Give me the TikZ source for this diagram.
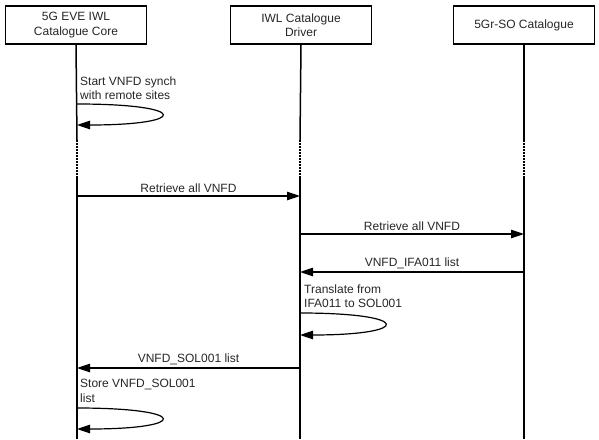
\documentclass[tikz,border=0pt]{standalone}
\usepackage{fontspec}
\setmainfont{Liberation Sans}
\usetikzlibrary{arrows.meta}
\begin{document}
\begin{tikzpicture}[x=1pt,y=-1pt,
  every node/.style={font=\fontsize{12}{14.5}\selectfont, text=black!85},
  actor/.style={draw, line width=1.5pt, minimum width=141pt, minimum height=38pt, align=center, inner sep=0pt},
  life/.style={line width=1.5pt},
  lifedot/.style={line width=1.5pt, dash pattern=on 1.6pt off 1.4pt},
  msg/.style={line width=1.2pt, -{Triangle[length=13pt,width=8.5pt]}},
  mlabel/.style={above=2pt, inner sep=1pt},
  note/.style={anchor=west, align=left, inner sep=0pt}]
\useasboundingbox (0,0) rectangle (599,439);

\node[actor] (A) at (76,25) {5G EVE IWL\\Catalogue Core};
\node[actor] (B) at (301,25) {IWL Catalogue\\Driver};
\node[actor] (C) at (524,25) {5Gr-SO Catalogue};

% lifelines
\foreach \n/\x in {A/77,B/300,C/524}{
  \coordinate (\n d1) at (\x,140);
  \coordinate (\n d2) at (\x,177);
  \coordinate (\n end) at (\x,439);
  \draw[life] (\n.south) -- (\n d1);
  \draw[lifedot] (\n d1) -- (\n d2);
  \draw[life] (\n d2) -- (\n end);
}

% self message 1
\coordinate (s1a) at (77,104);
\coordinate (s1b) at (77,125);
\node[note] (t1) at (80,88) {Start VNFD synch\\with remote sites};
\draw[msg] (s1a) .. controls (190,104) and (190,125) .. (s1b);

% Retrieve all VNFD (A->B)
\coordinate (m1a) at (77,196);
\coordinate (m1b) at (300,196);
\draw[msg] (m1a) -- (m1b) node[midway, mlabel] (l1) {Retrieve all VNFD};

% Retrieve all VNFD (B->C)
\coordinate (m2a) at (300,234);
\coordinate (m2b) at (524,234);
\draw[msg] (m2a) -- (m2b) node[midway, mlabel] (l2) {Retrieve all VNFD};

% VNFD_IFA011 list (C->B)
\coordinate (m3a) at (524,272);
\coordinate (m3b) at (300,272);
\draw[msg] (m3a) -- (m3b) node[midway, mlabel] (l3) {VNFD\_IFA011 list};

% self message 2
\coordinate (s2a) at (300,313);
\coordinate (s2b) at (300,335);
\node[note] (t2) at (304,296) {Translate from\\IFA011 to SOL001};
\draw[msg] (s2a) .. controls (413,313) and (413,335) .. (s2b);

% VNFD_SOL001 list (B->A)
\coordinate (m4a) at (300,368);
\coordinate (m4b) at (77,368);
\draw[msg] (m4a) -- (m4b) node[midway, mlabel] (l4) {VNFD\_SOL001 list};

% self message 3
\coordinate (s3a) at (77,408);
\coordinate (s3b) at (77,429);
\node[note] (t3) at (80,391) {Store VNFD\_SOL001\\list};
\draw[msg] (s3a) .. controls (190,408) and (190,429) .. (s3b);
\end{tikzpicture}
\end{document}
